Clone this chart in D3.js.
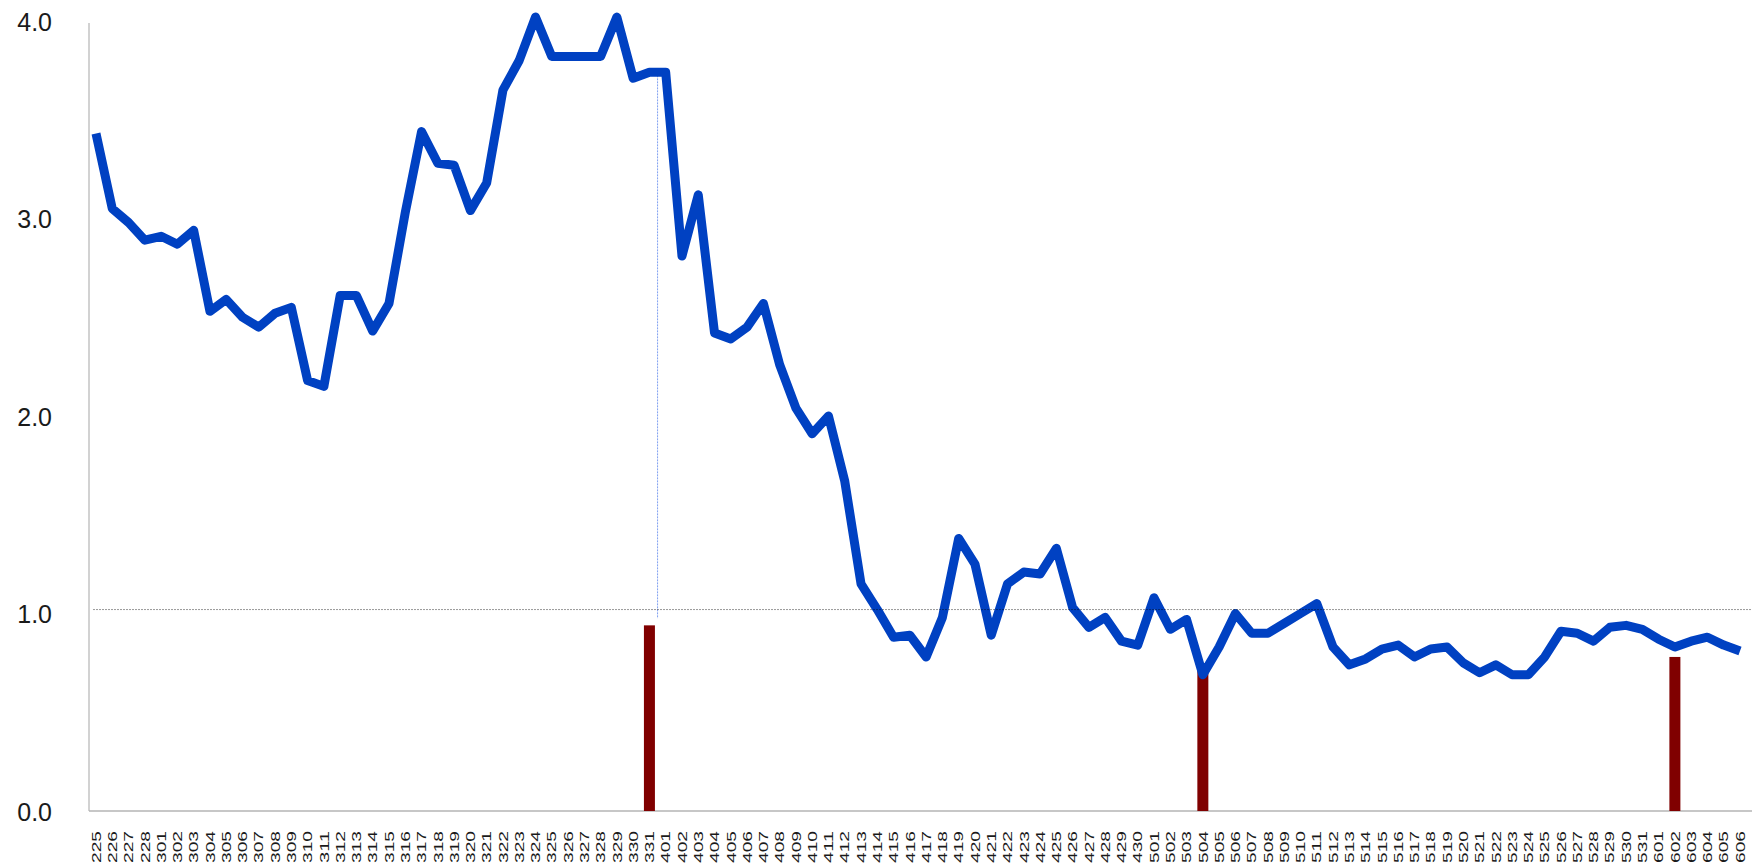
<!DOCTYPE html>
<html>
<head>
<meta charset="utf-8">
<script src="https://d3js.org/d3.v7.min.js"></script>
<style>
  html, body { margin: 0; padding: 0; background: #fff; }
  svg text { font-family: "Liberation Sans", Arial, sans-serif; fill: #1a1a1a; }
</style>
</head>
<body>
<svg id="chart" width="1752" height="864"></svg>
<script>
// dates as written on the x axis (MDD)
const day_labels = [
    "225", "226", "227", "228",
    "301", "302", "303", "304", "305", "306", "307", "308", "309", "310",
    "311", "312", "313", "314", "315", "316", "317", "318", "319", "320",
    "321", "322", "323", "324", "325", "326", "327", "328", "329", "330", "331",
    "401", "402", "403", "404", "405", "406", "407", "408", "409", "410",
    "411", "412", "413", "414", "415", "416", "417", "418", "419", "420",
    "421", "422", "423", "424", "425", "426", "427", "428", "429", "430",
    "501", "502", "503", "504", "505", "506", "507", "508", "509", "510",
    "511", "512", "513", "514", "515", "516", "517", "518", "519", "520",
    "521", "522", "523", "524", "525", "526", "527", "528", "529", "530", "531",
    "601", "602", "603", "604", "605", "606"
];

// blue line, one value per day
const line_values = [
    3.43, 3.05, 2.98, 2.89,
    2.91, 2.87, 2.94, 2.53, 2.59, 2.50, 2.45, 2.52, 2.55, 2.18,
    2.15, 2.61, 2.61, 2.43, 2.57, 3.03, 3.44, 3.28, 3.27, 3.04,
    3.18, 3.65, 3.80, 4.02, 3.82, 3.82, 3.82, 3.82, 4.02, 3.71, 3.74,
    3.74, 2.81, 3.12, 2.42, 2.39, 2.45, 2.57, 2.26, 2.04, 1.91,
    2.00, 1.67, 1.15, 1.02, 0.88, 0.89, 0.78, 0.98, 1.38, 1.25,
    0.89, 1.15, 1.21, 1.20, 1.33, 1.03, 0.93, 0.98, 0.86, 0.84,
    1.08, 0.92, 0.97, 0.69, 0.83, 1.00, 0.90, 0.90, 0.95, 1.00,
    1.05, 0.83, 0.74, 0.77, 0.82, 0.84, 0.78, 0.82, 0.83, 0.75,
    0.70, 0.74, 0.69, 0.69, 0.78, 0.91, 0.90, 0.86, 0.93, 0.94, 0.92,
    0.87, 0.83, 0.86, 0.88, 0.84, 0.81
];

// dark red bars, only on a few days
const bar_days = ["331", "504", "602"];
const bar_values = [0.94, 0.73, 0.78];

const y_ticks = [0, 1, 2, 3, 4];
const ref_level = 1.02;       // dashed horizontal reference
const marker_day = "331";     // thin dashed vertical marker
const marker_bottom = 0.975;

const svg = d3.select("#chart");

const x = d3.scalePoint()
    .domain(day_labels)
    .range([96, 1740]);

const y = d3.scaleLinear()
    .domain([0, 4])
    .range([811, 21]);

const axis_color = "#b4b4b4";

// axis lines (no ticks)
svg.append("line")
    .attr("x1", 89).attr("x2", 89)
    .attr("y1", 23).attr("y2", y(0))
    .attr("stroke", axis_color)
    .attr("stroke-width", 1.2);

svg.append("line")
    .attr("x1", 89).attr("x2", 1752)
    .attr("y1", y(0)).attr("y2", y(0))
    .attr("stroke", axis_color)
    .attr("stroke-width", 1.5);

// y labels
const y_axis = d3.axisLeft(y)
    .tickValues(y_ticks)
    .tickFormat(d3.format(".1f"))
    .tickSize(0)
    .tickPadding(37);

const y_g = svg.append("g")
    .attr("transform", "translate(89,0)")
    .call(y_axis);
y_g.select(".domain").remove();
y_g.selectAll("text")
    .style("font-size", "25px")
    .attr("dy", "0.36em");

// x labels, rotated and stretched along their length like the original
const x_axis = d3.axisBottom(x).tickSize(0).tickPadding(0);
const x_g = svg.append("g")
    .attr("transform", "translate(0," + 831 + ")")
    .call(x_axis);
x_g.select(".domain").remove();
x_g.selectAll("text")
    .style("font-size", "12px")
    .attr("text-anchor", "end")
    .attr("dy", "0.35em")
    .attr("y", 0)
    .attr("textLength", 32)
    .attr("lengthAdjust", "spacingAndGlyphs")
    .attr("transform", "rotate(-90)");

// bars
const bar_w = 11;
svg.selectAll("rect.bar")
    .data(bar_days.map((d, i) => ({day: d, value: bar_values[i]})))
    .enter()
    .append("rect")
    .attr("class", "bar")
    .attr("x", d => x(d.day) - bar_w / 2)
    .attr("y", d => y(d.value))
    .attr("width", bar_w)
    .attr("height", d => y(0) - y(d.value))
    .attr("fill", "#800000");

// vertical marker, half a step after the marker day
const marker_x = x(marker_day) + x.step() / 2;
const marker_i = day_labels.indexOf(marker_day);
svg.append("line")
    .attr("x1", marker_x).attr("x2", marker_x)
    .attr("y1", y(line_values[marker_i]))
    .attr("y2", y(marker_bottom))
    .attr("stroke", "#7f9ff0")
    .attr("stroke-width", 1)
    .attr("stroke-dasharray", "2,1");

// main line
const line = d3.line()
    .x((d, i) => x(day_labels[i]))
    .y(d => y(d));

svg.append("path")
    .datum(line_values)
    .attr("d", line)
    .attr("fill", "none")
    .attr("stroke", "#0041c2")
    .attr("stroke-width", 9)
    .attr("stroke-linejoin", "round")
    .attr("stroke-linecap", "butt");

// dashed reference level, drawn over the line
svg.append("line")
    .attr("x1", 93).attr("x2", 1752)
    .attr("y1", y(ref_level)).attr("y2", y(ref_level))
    .attr("stroke", "#000")
    .attr("stroke-opacity", 0.4)
    .attr("stroke-width", 1)
    .attr("stroke-dasharray", "2,1");
</script>
</body>
</html>
